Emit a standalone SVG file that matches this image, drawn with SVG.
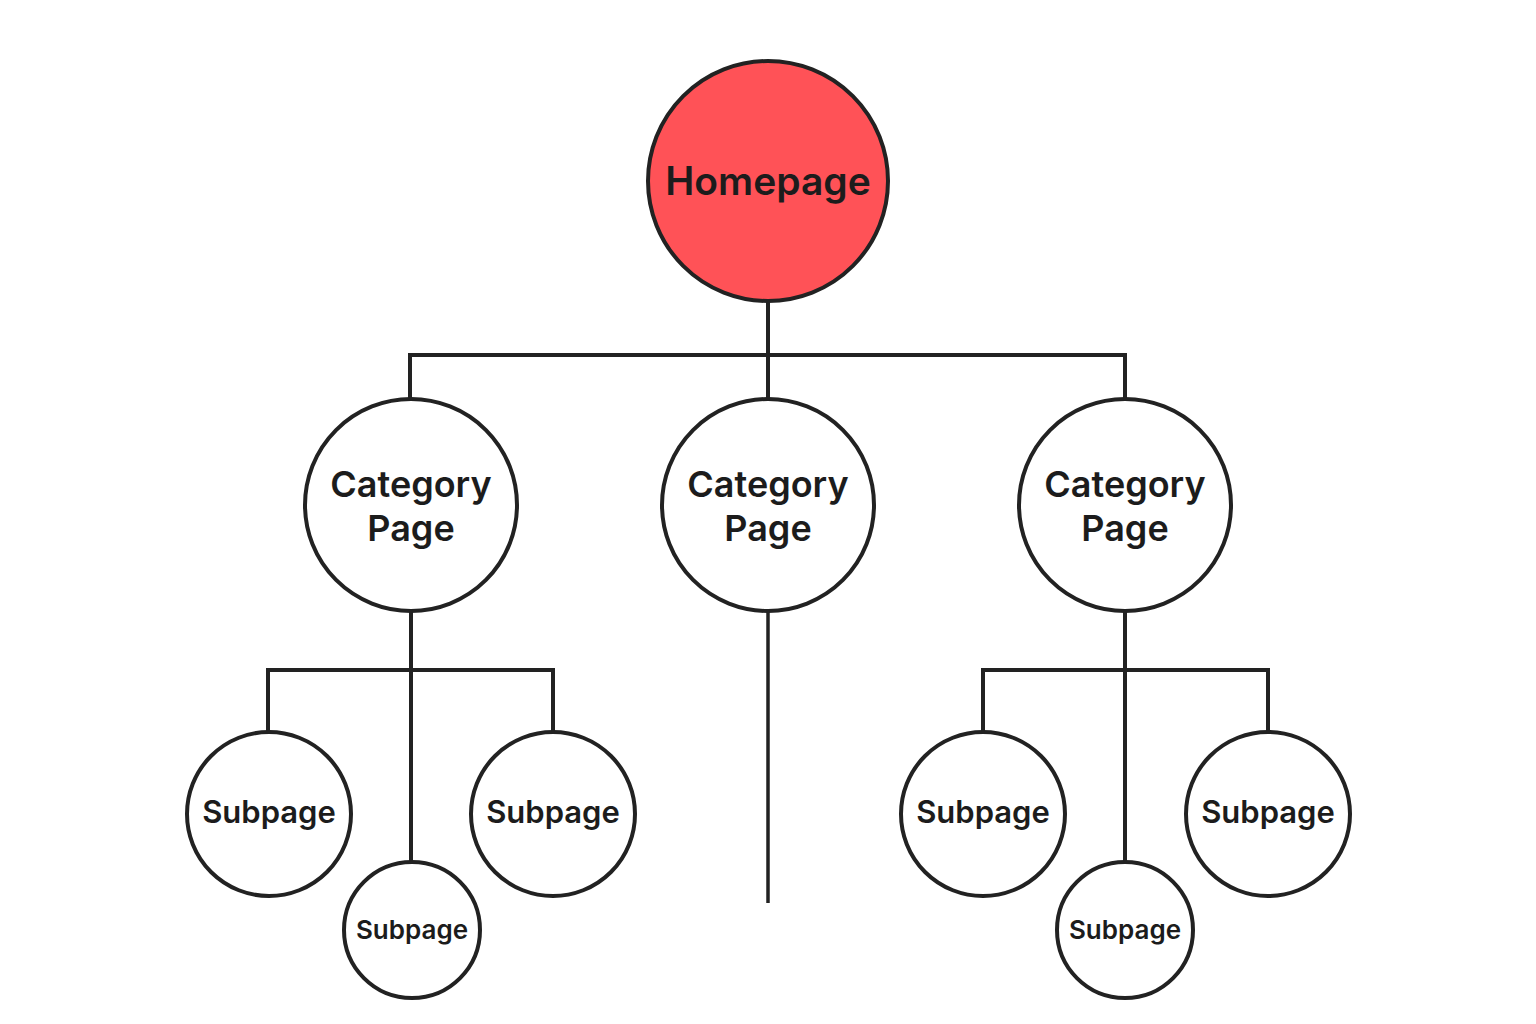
<svg xmlns="http://www.w3.org/2000/svg" width="1536" height="1024" viewBox="0 0 1536 1024">
<style>
.node{fill:#fff;stroke:#222;stroke-width:4}
.home{fill:#FF5257}
.conn{fill:none;stroke:#222;stroke-width:4}
text{font-family:Inter,"Liberation Sans",sans-serif;font-weight:600;fill:#1c1c1c;text-anchor:middle}
.t1{font-size:39px}
.t2{font-size:36px}
.t3{font-size:31px}
.t4{font-size:26px}
</style>
<rect width="1536" height="1024" fill="#fff"/>
<g id="connectors">
<path class="conn" d="M768 301V400M410 355H1125M410 353V400M1125 353V400"/>
<path class="conn" d="M411 611V863M268 670H553M268 668V734M553 668V734"/>
<path class="conn" d="M768 611V903" style="stroke-width:3.5"/>
<path class="conn" d="M1125 611V863M983 670H1268M983 668V734M1268 668V734"/>
</g>
<g id="homepage"><circle class="node home" cx="768" cy="181" r="120"/><text class="t1" x="768" y="195">Homepage</text></g>
<g id="category1"><circle class="node" cx="411" cy="505" r="106"/><text class="t2" x="411" y="497">Category</text><text class="t2" x="411" y="541">Page</text></g>
<g id="category2"><circle class="node" cx="768" cy="505" r="106"/><text class="t2" x="768" y="497">Category</text><text class="t2" x="768" y="541">Page</text></g>
<g id="category3"><circle class="node" cx="1125" cy="505" r="106"/><text class="t2" x="1125" y="497">Category</text><text class="t2" x="1125" y="541">Page</text></g>
<g id="sub1"><circle class="node" cx="269" cy="814" r="82"/><text class="t3" x="269" y="823">Subpage</text></g>
<g id="sub2"><circle class="node" cx="412" cy="930" r="68"/><text class="t4" x="412" y="939">Subpage</text></g>
<g id="sub3"><circle class="node" cx="553" cy="814" r="82"/><text class="t3" x="553" y="823">Subpage</text></g>
<g id="sub4"><circle class="node" cx="983" cy="814" r="82"/><text class="t3" x="983" y="823">Subpage</text></g>
<g id="sub5"><circle class="node" cx="1125" cy="930" r="68"/><text class="t4" x="1125" y="939">Subpage</text></g>
<g id="sub6"><circle class="node" cx="1268" cy="814" r="82"/><text class="t3" x="1268" y="823">Subpage</text></g>
</svg>
